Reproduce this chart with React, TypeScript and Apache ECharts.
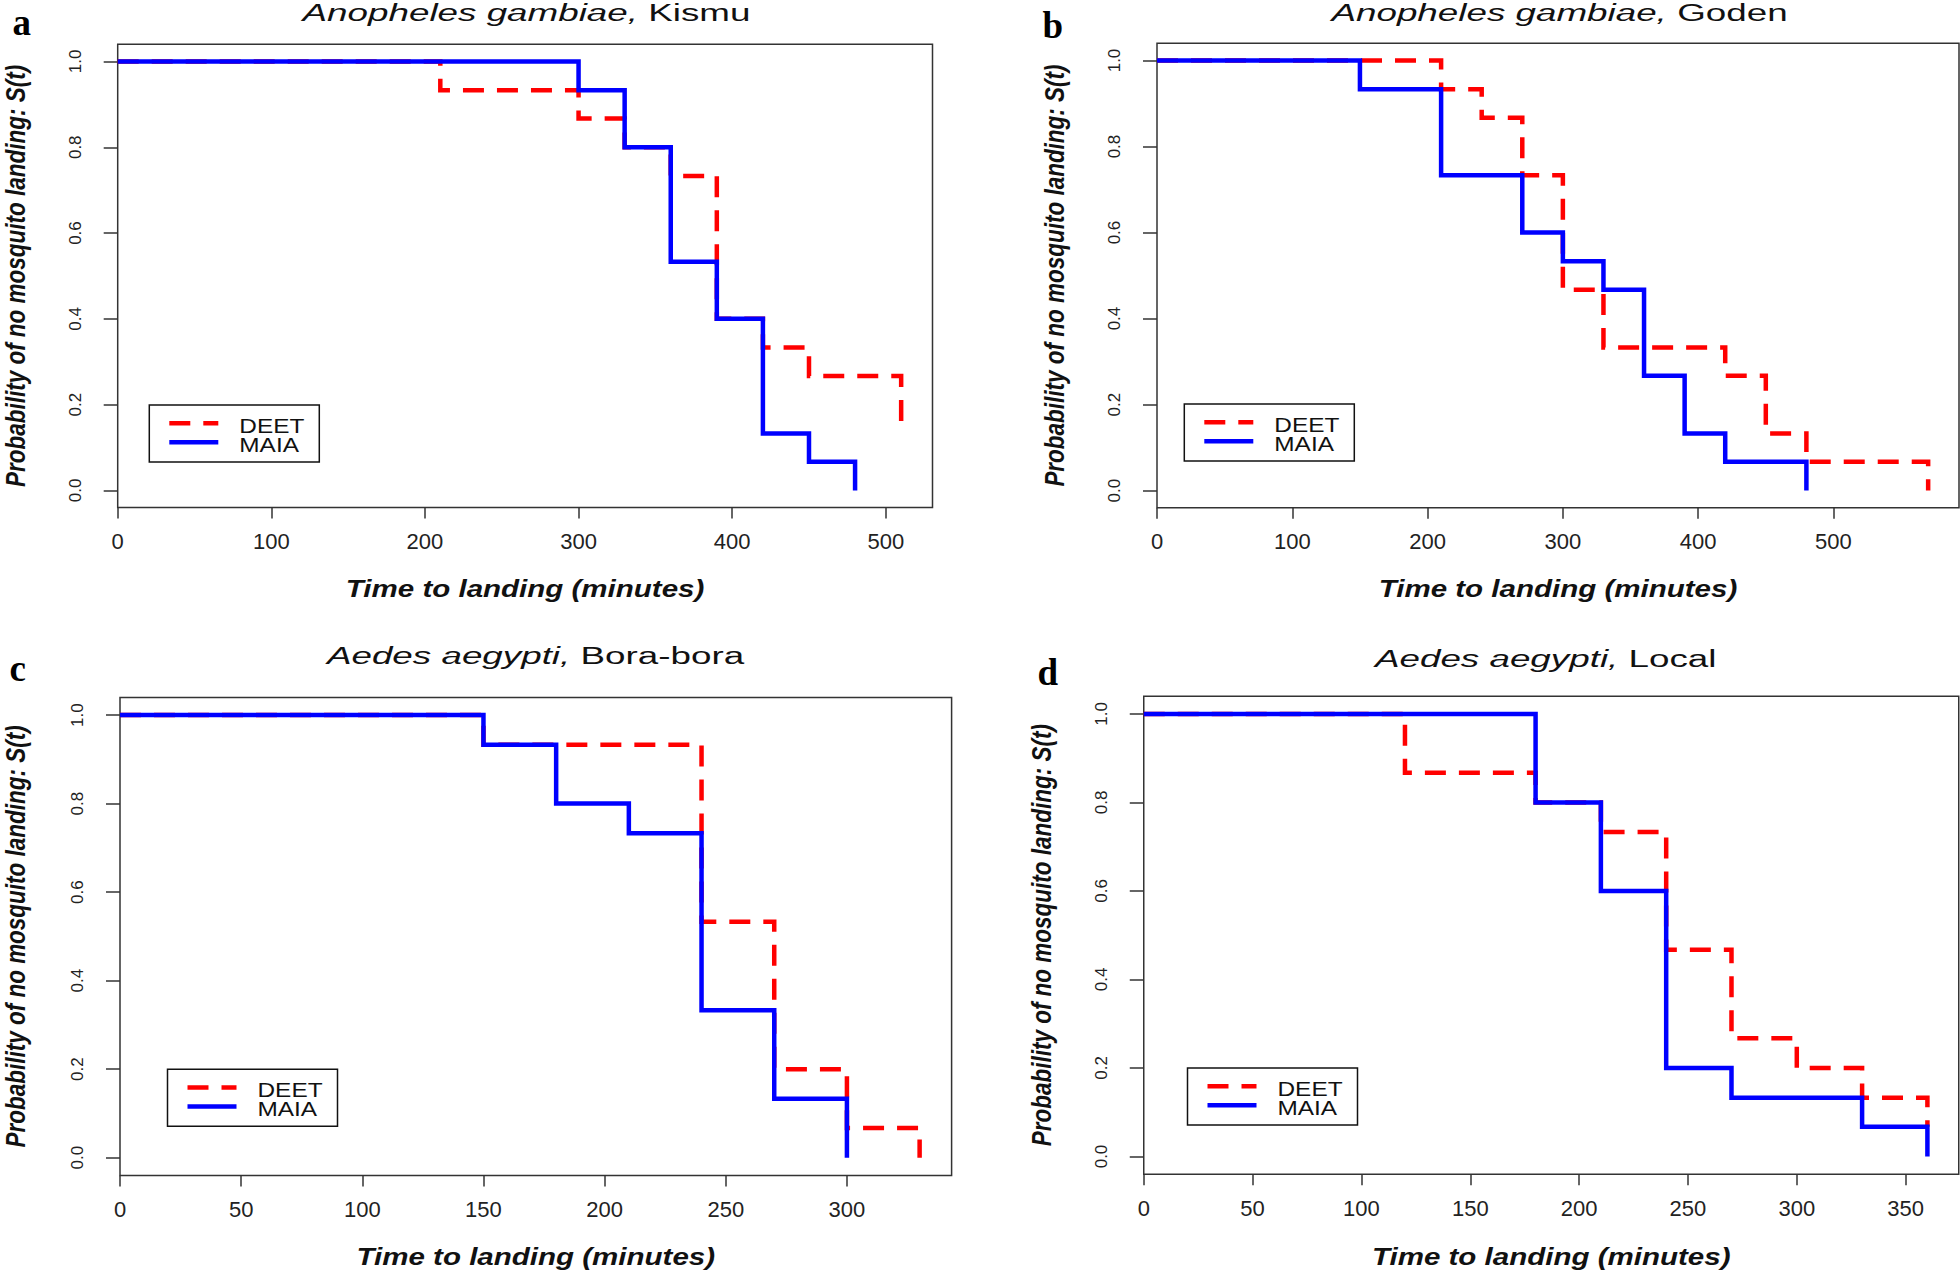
import React, { useEffect, useRef } from "react";
import * as echarts from "echarts";

// ---------------- Data ----------------
const panelLetters = ["a", "b", "c", "d"];
const panelSpecies = ["Anopheles gambiae,", "Anopheles gambiae,", "Aedes aegypti,", "Aedes aegypti,"];
const panelStrains = ["Kismu", "Goden", "Bora-bora", "Local"];
const groupNames = ["DEET", "MAIA"];
const xAxisTitle = "Time to landing (minutes)";
const yAxisTitle = "Probability of no mosquito landing: S(t)";

// a: Anopheles gambiae, Kismu
const kismuTimeDeet = [0, 210, 300, 330, 360, 390, 420, 450, 510];
const kismuSurvDeet = [1, 0.933, 0.867, 0.8, 0.733, 0.4, 0.333, 0.267, 0.133];
const kismuTimeMaia = [0, 300, 330, 360, 390, 420, 450, 480];
const kismuSurvMaia = [1, 0.933, 0.8, 0.533, 0.4, 0.133, 0.067, 0];

// b: Anopheles gambiae, Goden
const godenTimeDeet = [0, 210, 240, 270, 300, 330, 420, 450, 480, 570];
const godenSurvDeet = [1, 0.933, 0.867, 0.733, 0.467, 0.333, 0.267, 0.133, 0.067, 0];
const godenTimeMaia = [0, 150, 210, 270, 300, 330, 360, 390, 420, 480];
const godenSurvMaia = [1, 0.933, 0.733, 0.6, 0.533, 0.467, 0.267, 0.133, 0.067, 0];

// c: Aedes aegypti, Bora-bora
const boraTimeDeet = [0, 150, 240, 270, 300, 330];
const boraSurvDeet = [1, 0.933, 0.533, 0.2, 0.067, 0];
const boraTimeMaia = [0, 150, 180, 210, 240, 270, 300];
const boraSurvMaia = [1, 0.933, 0.8, 0.733, 0.333, 0.133, 0];

// d: Aedes aegypti, Local
const localTimeDeet = [0, 120, 180, 210, 240, 270, 300, 330, 360];
const localSurvDeet = [1, 0.867, 0.8, 0.733, 0.467, 0.267, 0.2, 0.133, 0.067];
const localTimeMaia = [0, 180, 210, 240, 270, 330, 360];
const localSurvMaia = [1, 0.8, 0.6, 0.2, 0.133, 0.067, 0];

// tick labels
const xTicksAB = [0, 100, 200, 300, 400, 500];
const xTicksC = [0, 50, 100, 150, 200, 250, 300];
const xTicksD = [0, 50, 100, 150, 200, 250, 300, 350];
const yTicks = [0, 0.2, 0.4, 0.6, 0.8, 1.0];
const xAxisMax = [530.4, 592.8, 343.2, 374.4];
const yAxisMin = -0.04;
const yAxisMax = 1.04;

const panelData = [
  { deetT: kismuTimeDeet, deetS: kismuSurvDeet, maiaT: kismuTimeMaia, maiaS: kismuSurvMaia, xTicks: xTicksAB },
  { deetT: godenTimeDeet, deetS: godenSurvDeet, maiaT: godenTimeMaia, maiaS: godenSurvMaia, xTicks: xTicksAB },
  { deetT: boraTimeDeet, deetS: boraSurvDeet, maiaT: boraTimeMaia, maiaS: boraSurvMaia, xTicks: xTicksC },
  { deetT: localTimeDeet, deetS: localSurvDeet, maiaT: localTimeMaia, maiaS: localSurvMaia, xTicks: xTicksD },
];

// ---------------- Layout ----------------
const layout = [
  { grid: { left: 117.7, top: 44.3, width: 814.8, height: 463.3 }, letter: { x: 12.5, y: 22 }, title: { x: 526.5, y: 13.5 }, xTitleY: 588.5, yTitleX: 15, legend: { x: 149.3, y: 405 } },
  { grid: { left: 1157, top: 43.3, width: 802, height: 464.5 }, letter: { x: 1042.5, y: 25.4 }, title: { x: 1559.5, y: 13 }, xTitleY: 588.5, yTitleX: 1054.5, legend: { x: 1184.3, y: 404 } },
  { grid: { left: 120, top: 697.4, width: 831.6, height: 478 }, letter: { x: 9.4, y: 668.4 }, title: { x: 535.5, y: 656 }, xTitleY: 1257.3, yTitleX: 15, legend: { x: 167.5, y: 1069.3 } },
  { grid: { left: 1143.75, top: 696.2, width: 815, height: 478 }, letter: { x: 1037.5, y: 672 }, title: { x: 1545.7, y: 659.4 }, xTitleY: 1257.3, yTitleX: 1040.8, legend: { x: 1187.5, y: 1068 } },
];

const RED = "#ff0000";
const BLUE = "#0000ff";
const DASH = [21, 13];
const FRAME = "#333333";
const SANS = "'Liberation Sans', Arial, Helvetica, sans-serif";

function zip(t: number[], s: number[]) {
  return t.map((v, k) => [v, s[k]]);
}

function buildOption() {
  const grid = layout.map((l) => ({
    left: l.grid.left,
    top: l.grid.top,
    width: l.grid.width,
    height: l.grid.height,
    show: true,
    borderColor: FRAME,
    borderWidth: 1.5,
    backgroundColor: "transparent",
    containLabel: false,
  }));

  const xAxis = panelData.map((p, i) => ({
    type: "value",
    gridIndex: i,
    min: 0,
    max: xAxisMax[i],
    axisLine: { show: false, onZero: false },
    axisTick: { show: true, inside: false, length: 11, lineStyle: { color: FRAME, width: 1.5 }, customValues: p.xTicks },
    axisLabel: { show: true, customValues: p.xTicks, margin: 23, fontSize: 22, color: "#222", fontFamily: SANS },
    splitLine: { show: false },
  }));

  const yAxis = panelData.map((p, i) => ({
    type: "value",
    gridIndex: i,
    min: yAxisMin,
    max: yAxisMax,
    axisLine: { show: false, onZero: false },
    axisTick: { show: true, inside: false, length: 14, lineStyle: { color: FRAME, width: 1.5 }, customValues: yTicks },
    axisLabel: {
      show: true,
      customValues: yTicks,
      rotate: 90,
      margin: 34,
      fontSize: 17,
      color: "#222",
      fontFamily: SANS,
      formatter: (v: number) => v.toFixed(1),
    },
    splitLine: { show: false },
  }));

  const series: any[] = [];
  panelData.forEach((p, i) => {
    series.push({
      type: "line",
      name: groupNames[0],
      xAxisIndex: i,
      yAxisIndex: i,
      data: zip(p.deetT, p.deetS),
      step: "end",
      symbol: "none",
      showSymbol: false,
      silent: true,
      z: 2,
      lineStyle: { color: RED, width: 4.5, type: DASH, cap: "butt", join: "miter" },
      itemStyle: { color: RED },
    });
    series.push({
      type: "line",
      name: groupNames[1],
      xAxisIndex: i,
      yAxisIndex: i,
      data: zip(p.maiaT, p.maiaS),
      step: "end",
      symbol: "none",
      showSymbol: false,
      silent: true,
      z: 3,
      lineStyle: { color: BLUE, width: 4.5, type: "solid", cap: "butt", join: "miter" },
      itemStyle: { color: BLUE },
    });
  });

  const graphic: any[] = [];
  layout.forEach((l, i) => {
    const cx = l.grid.left + l.grid.width / 2;
    const cy = l.grid.top + l.grid.height / 2;
    // panel letter
    graphic.push({
      type: "text",
      x: l.letter.x,
      y: l.letter.y,
      silent: true,
      style: {
        text: panelLetters[i],
        fontFamily: "'Liberation Serif', 'Times New Roman', serif",
        fontWeight: "bold",
        fontSize: 37,
        lineHeight: 30,
        fill: "#000",
        align: "left",
        verticalAlign: "middle",
      },
    });
    // title
    graphic.push({
      type: "text",
      x: l.title.x,
      y: l.title.y,
      scaleX: 1.6,
      silent: true,
      style: {
        text: "{i|" + panelSpecies[i] + "}{n| " + panelStrains[i] + "}",
        fontFamily: SANS,
        fontSize: 23,
        lineHeight: 21,
        fill: "#111",
        align: "center",
        verticalAlign: "middle",
        rich: {
          i: { fontFamily: SANS, fontSize: 23, lineHeight: 21, fontStyle: "italic", fill: "#111" },
          n: { fontFamily: SANS, fontSize: 23, lineHeight: 21, fontStyle: "normal", fill: "#111" },
        },
      },
    });
    // x axis title
    graphic.push({
      type: "text",
      x: cx,
      y: l.xTitleY,
      scaleX: 1.23,
      silent: true,
      style: {
        text: xAxisTitle,
        fontFamily: SANS,
        fontSize: 24,
        lineHeight: 24,
        fontWeight: "bold",
        fontStyle: "italic",
        fill: "#111",
        align: "center",
        verticalAlign: "middle",
      },
    });
    // y axis title
    graphic.push({
      type: "text",
      x: l.yTitleX,
      y: cy,
      rotation: Math.PI / 2,
      scaleY: 1.22,
      silent: true,
      style: {
        text: yAxisTitle,
        fontFamily: SANS,
        fontSize: 22.5,
        lineHeight: 22,
        fontWeight: "bold",
        fontStyle: "italic",
        fill: "#111",
        align: "center",
        verticalAlign: "middle",
      },
    });
    // legend
    const lx = l.legend.x;
    const ly = l.legend.y;
    graphic.push({
      type: "rect",
      silent: true,
      shape: { x: lx, y: ly, width: 170, height: 57 },
      style: { fill: "#fff", stroke: "#111", lineWidth: 1.5 },
      z: 10,
    });
    graphic.push({
      type: "line",
      silent: true,
      shape: { x1: lx + 20, y1: ly + 18.3, x2: lx + 69, y2: ly + 18.3 },
      style: { stroke: RED, lineWidth: 4.5, lineDash: DASH, lineCap: "butt" },
      z: 11,
    });
    graphic.push({
      type: "line",
      silent: true,
      shape: { x1: lx + 20, y1: ly + 37.3, x2: lx + 69, y2: ly + 37.3 },
      style: { stroke: BLUE, lineWidth: 4.5, lineCap: "butt" },
      z: 11,
    });
    groupNames.forEach((g, k) => {
      graphic.push({
        type: "text",
        x: lx + 90,
        y: ly + 21.3 + k * 18.7,
        scaleX: 1.22,
        silent: true,
        z: 11,
        style: {
          text: g,
          fontFamily: SANS,
          fontSize: 20,
          lineHeight: 18,
          fill: "#111",
          align: "left",
          verticalAlign: "middle",
        },
      });
    });
  });

  return {
    animation: false,
    backgroundColor: "#ffffff",
    grid,
    xAxis,
    yAxis,
    series,
    graphic,
  };
}

export default function App() {
  const ref = useRef<HTMLDivElement | null>(null);
  useEffect(() => {
    if (!ref.current) return;
    const chart = echarts.init(ref.current, undefined, { renderer: "svg", width: 1960, height: 1272 });
    chart.setOption(buildOption() as any);
    return () => {
      chart.dispose();
    };
  }, []);
  return (
    <div
      ref={ref}
      style={{ position: "absolute", left: 0, top: 0, width: 1960, height: 1272, background: "#fff" }}
    />
  );
}
